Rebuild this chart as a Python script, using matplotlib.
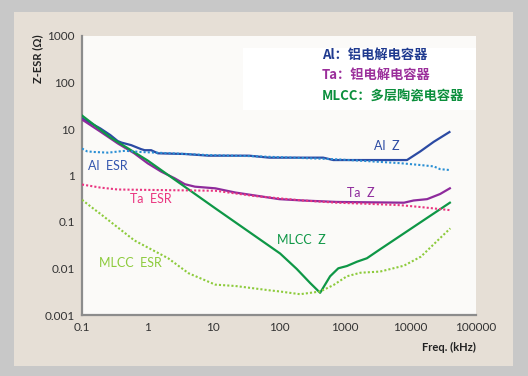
import matplotlib
matplotlib.use("Agg")
import matplotlib.pyplot as plt
from matplotlib.patches import Rectangle

# ---------------- data (frequency in kHz, impedance in ohm) ----------------
al_z_f = [0.1, 0.19, 0.27, 0.35, 0.4, 0.56, 0.79, 0.9, 1.13, 1.43, 3.7, 8.4, 35, 71, 470, 670, 7000, 8900, 14200, 22700, 39400]
al_z_v = [16.9, 10.3, 7.4, 5.5, 5.1, 4.5, 3.7, 3.5, 3.5, 3.0, 2.9, 2.67, 2.67, 2.42, 2.42, 2.15, 2.15, 2.15, 3.3, 5.3, 8.6]

al_esr_f = [0.1, 0.12, 0.155, 0.25, 0.45, 0.8, 2.3, 8.4, 40, 63, 755, 2460, 7030, 14200, 22700, 28400, 40000]
al_esr_v = [3.8, 3.3, 3.2, 3.1, 3.4, 3.2, 3.0, 2.75, 2.6, 2.54, 2.23, 2.02, 1.84, 1.68, 1.57, 1.37, 1.31]

ta_z_f = [0.1, 0.19, 0.35, 0.625, 1.0, 1.61, 2.58, 3.68, 5.25, 10.7, 21.7, 44, 101, 231, 755, 8000, 11200, 18000, 28400, 40000]
ta_z_v = [16.0, 8.8, 4.9, 3.0, 1.83, 1.21, 0.87, 0.65, 0.575, 0.53, 0.43, 0.37, 0.31, 0.29, 0.27, 0.26, 0.29, 0.31, 0.40, 0.53]

ta_esr_f = [0.1, 0.19, 0.35, 1.0, 10.7, 44, 231, 755, 2460, 7030, 14200, 22700, 40000]
ta_esr_v = [0.64, 0.55, 0.50, 0.49, 0.47, 0.36, 0.29, 0.26, 0.245, 0.23, 0.21, 0.196, 0.18]

mlcc_z_f = [0.1, 0.27, 1.0, 10.7, 104, 186, 297, 423, 600, 800, 1080, 1540, 2180, 3480, 8000, 40000]
mlcc_z_v = [19.5, 6.6, 2.1, 0.197, 0.021, 0.0098, 0.0049, 0.003, 0.0068, 0.0101, 0.0113, 0.014, 0.0166, 0.026, 0.057, 0.26]

mlcc_esr_f = [0.1, 0.155, 0.19, 0.63, 2.05, 4.2, 10.7, 21.8, 71, 104, 209, 423, 675, 1080, 1730, 3480, 8000, 14500, 28400, 40600]
mlcc_esr_v = [0.30, 0.186, 0.15, 0.04, 0.0166, 0.0079, 0.0045, 0.0042, 0.0034, 0.0032, 0.0028, 0.0032, 0.0044, 0.0068, 0.0081, 0.0086, 0.0115, 0.018, 0.045, 0.073]

x_ticks = [0.1, 1, 10, 100, 1000, 10000, 100000]
x_tick_labels = ["0.1", "1", "10", "100", "1000", "10000", "100000"]
y_ticks = [0.001, 0.01, 0.1, 1, 10, 100, 1000]
y_tick_labels = ["0.001", "0.01", "0.1", "1", "10", "100", "1000"]

legend_lines = ["Al：铝电解电容器", "Ta：钽电解电容器", "MLCC：多层陶瓷电容器"]
curve_labels = ["Al  Z", "Al  ESR", "Ta  Z", "Ta  ESR", "MLCC  Z", "MLCC  ESR"]
curve_label_x = [4450, 0.25, 1770, 1.13, 223, 0.54]
curve_label_y = [4.4, 1.63, 0.43, 0.31, 0.041, 0.0133]

# ---------------- styling ----------------
LATIN = ["Lato", "DejaVu Sans"]
CJK = ["Noto Sans CJK SC", "DejaVu Sans"]

c_al_z = "#2b4aa3"
c_al_esr = "#2a8fd4"
c_ta_z = "#8e2a9c"
c_ta_esr = "#ea3580"
c_mlcc_z = "#0e9746"
c_mlcc_esr = "#8dcb3c"

W, H = 528, 376
fig = plt.figure(figsize=(W / 100, H / 100), dpi=100, facecolor="#c8c8c8")
fig.add_artist(Rectangle((13.5 / W, 10 / H), 499.3 / W, 354 / H,
                         transform=fig.transFigure, facecolor="#e6dfd6",
                         edgecolor="none", zorder=-5))

ax = fig.add_axes([82 / W, 61 / H, 394 / W, 279 / H])
ax.set_facecolor("#fbfaf8")
ax.set_xscale("log")
ax.set_yscale("log")
ax.set_xlim(0.1, 100000)
ax.set_ylim(0.001, 1000)

for s in ["top", "right"]:
    ax.spines[s].set_visible(False)
for s in ["left", "bottom"]:
    ax.spines[s].set_color("#8c8c8c")
    ax.spines[s].set_linewidth(1.6)

ax.set_xticks(x_ticks)
ax.set_xticklabels(x_tick_labels)
ax.set_yticks(y_ticks)
ax.set_yticklabels(y_tick_labels)
ax.minorticks_off()
ax.tick_params(axis="both", length=0, labelsize=8.5, labelcolor="#333333")
ax.tick_params(axis="x", pad=5)
ax.tick_params(axis="y", pad=5)
for lab in ax.get_xticklabels() + ax.get_yticklabels():
    lab.set_family(LATIN)

# legend box
ax.add_patch(Rectangle((0.4086, 0.735), 0.5914, 0.222, transform=ax.transAxes,
                       facecolor="#ffffff", edgecolor="none", zorder=0.5))

# curves
lw = 1.6
ax.plot(al_z_f, al_z_v, color=c_al_z, lw=lw, zorder=3)
ax.plot(ta_z_f, ta_z_v, color=c_ta_z, lw=lw, zorder=3)
ax.plot(mlcc_z_f, mlcc_z_v, color=c_mlcc_z, lw=lw, zorder=3)
ax.plot(al_esr_f, al_esr_v, color=c_al_esr, lw=1.5, ls=(0, (1, 1)), zorder=4)
ax.plot(ta_esr_f, ta_esr_v, color=c_ta_esr, lw=1.5, ls=(0, (1, 1)), zorder=4)
ax.plot(mlcc_esr_f, mlcc_esr_v, color=c_mlcc_esr, lw=1.5, ls=(0, (1, 1)), zorder=4)

label_colors = [c_al_z, "#3456ae", c_ta_z, c_ta_esr, c_mlcc_z, c_mlcc_esr]
for t, x, y, c in zip(curve_labels, curve_label_x, curve_label_y, label_colors):
    ax.text(x, y, t, color=c, fontsize=9, family=LATIN, ha="center", va="center", zorder=5)

legend_colors = ["#1f3a8f", "#9b2f9b", "#0b8f3c"]
legend_y = [0.932, 0.860, 0.785]
for t, y, c in zip(legend_lines, legend_y, legend_colors):
    ax.text(0.609, y, t, color=c, fontsize=9.5, family=CJK, fontweight="bold",
            ha="left", va="center", transform=ax.transAxes, zorder=5)

fig.text(38 / W, 1 - 59 / H, "Z-ESR (Ω)", rotation=90, ha="center", va="center",
         fontsize=8, fontweight="bold", family=LATIN, color="#222222")
fig.text(476 / W, 1 - 347 / H, "Freq. (kHz)", ha="right", va="center",
         fontsize=8, fontweight="bold", family=LATIN, color="#222222")

fig.savefig("out.png", dpi=100, facecolor=fig.get_facecolor())
